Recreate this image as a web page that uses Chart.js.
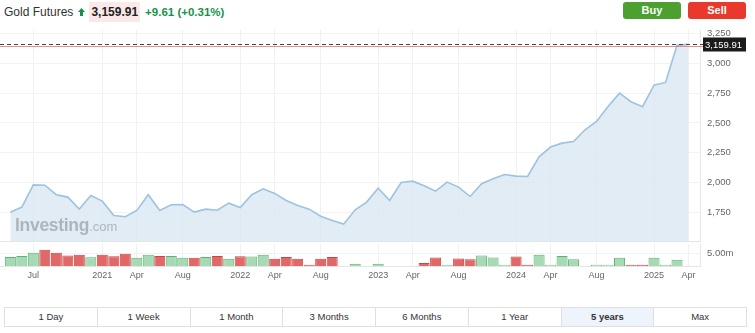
<!DOCTYPE html>
<html>
<head>
<meta charset="utf-8">
<script src="https://cdn.jsdelivr.net/npm/chart.js@4.4.1/dist/chart.umd.min.js"></script>
<style>
  body { margin: 0; width: 755px; height: 333px; background: #fff; position: relative; overflow: hidden;
         font-family: Arial, "Liberation Sans", sans-serif; }
  .header { position: absolute; left: 4px; top: 2px; height: 19px; display: flex; align-items: center; font-size: 12px; color: #333; }
  .header .arrow { margin: 0 4px 0 5px; display: block; }
  .header .price { font-weight: bold; background: #fbe8e8; padding: 3px 2px; color: #222; }
  .header .change { font-weight: bold; color: #17924a; margin-left: 5px; font-size: 11.5px; }
  .btn { position: absolute; top: 2px; height: 17px; width: 58px; border-radius: 3px; color: #fff; font-weight: bold;
         font-size: 11px; text-align: center; line-height: 17px; }
  .buy { left: 623px; background: #4ca02f; }
  .sell { left: 688px; background: #e8392c; }
  #priceChart { position: absolute; left: 0; top: 28px; }
  #volChart { position: absolute; left: 0; top: 243px; }
  .mark { position: absolute; left: 15px; top: 215px; color: rgba(110,115,120,0.45); white-space: nowrap; }
  .mark b { font-size: 17.5px; letter-spacing: -0.3px; }
  .mark span { font-size: 13px; }
  .tabs { position: absolute; left: 4px; top: 307px; width: 741px; height: 18px; border: 1px solid #e0e0e0; display: flex; }
  .tabs div { flex: 1; text-align: center; font-size: 9.5px; line-height: 18px; color: #333; border-right: 1px solid #e0e0e0; }
  .tabs div:last-child { border-right: none; }
  .tabs div.on { background: #eef4fb; font-weight: bold; }
</style>
</head>
<body>
<div class="header">
  <span>Gold Futures</span>
  <svg class="arrow" width="7" height="8" viewBox="0 0 7 8"><path d="M3.5 0 L7 4 L5 4 L5 8 L2 8 L2 4 L0 4 Z" fill="#17924a"/></svg>
  <span class="price">3,159.91</span>
  <span class="change">+9.61 (+0.31%)</span>
</div>
<div class="btn buy">Buy</div>
<div class="btn sell">Sell</div>

<canvas id="priceChart" width="755" height="214"></canvas>
<canvas id="volChart" width="755" height="42"></canvas>
<div class="mark"><b>Investing</b><span>.com</span></div>

<div class="tabs" id="tabs"></div>

<script>
const months = [
  'May 2020', 'Jun 2020', 'Jul 2020', 'Aug 2020', 'Sep 2020', 'Oct 2020', 'Nov 2020', 'Dec 2020',
  'Jan 2021', 'Feb 2021', 'Mar 2021', 'Apr 2021', 'May 2021', 'Jun 2021', 'Jul 2021', 'Aug 2021', 'Sep 2021', 'Oct 2021', 'Nov 2021', 'Dec 2021',
  'Jan 2022', 'Feb 2022', 'Mar 2022', 'Apr 2022', 'May 2022', 'Jun 2022', 'Jul 2022', 'Aug 2022', 'Sep 2022', 'Oct 2022', 'Nov 2022', 'Dec 2022',
  'Jan 2023', 'Feb 2023', 'Mar 2023', 'Apr 2023', 'May 2023', 'Jun 2023', 'Jul 2023', 'Aug 2023', 'Sep 2023', 'Oct 2023', 'Nov 2023', 'Dec 2023',
  'Jan 2024', 'Feb 2024', 'Mar 2024', 'Apr 2024', 'May 2024', 'Jun 2024', 'Jul 2024', 'Aug 2024', 'Sep 2024', 'Oct 2024', 'Nov 2024', 'Dec 2024',
  'Jan 2025', 'Feb 2025', 'Mar 2025', 'Apr 2025'
];

// monthly closes
const closes = [
  1750, 1793, 1980, 1977, 1897, 1877, 1776, 1891,
  1843, 1723, 1712, 1765, 1897, 1765, 1813, 1815, 1751, 1776, 1767, 1826,
  1790, 1897, 1947, 1908, 1849, 1807, 1776, 1717, 1681, 1650, 1771, 1835,
  1952, 1849, 2000, 2011, 1972, 1927, 2003, 1961, 1882, 1989, 2031, 2067,
  2053, 2050, 2215, 2297, 2330, 2344, 2442, 2512, 2638, 2750, 2678, 2636,
  2817, 2840, 3151, 3159.91
];

// volume in millions (null = no bar)
const volumes = [
  3.5, 3.9, 5.1, 6.3, 5.1, 4.1, 4.3, 3.4,
  4.3, 3.8, 4.7, 3.2, 4.3, 3.9, 3.9, 3.2, 3.2, 3.5, 3.9, 2.8,
  3.8, 3.7, 4.3, 2.8, 3.5, 2.8, 0.5, 2.8, 3.5, null, 0.9, null,
  0.9, null, null, null, 1.2, 3.3, 0.5, 2.9, 2.6, 4.1, 3.3, 0.5,
  3.7, 0.5, 4.3, 0.5, 3.9, 2.6, null, 0.5, 0.5, 3.2, 0.5, 0.5,
  3.2, 0.5, 2.4, null
];

const priceTicks = [1750, 2000, 2250, 2500, 2750, 3000, 3250];
const volumeTicks = [5];
const xTickMonths = ['Jul 2020', 'Jan 2021', 'Apr 2021', 'Aug 2021', 'Jan 2022', 'Apr 2022', 'Aug 2022',
  'Jan 2023', 'Apr 2023', 'Aug 2023', 'Jan 2024', 'Apr 2024', 'Aug 2024', 'Jan 2025', 'Apr 2025'];
const lastPrice = 3159.91;
const tabNames = ['1 Day', '1 Week', '1 Month', '3 Months', '6 Months', '1 Year', '5 years', 'Max'];

// tabs
const tabsEl = document.getElementById('tabs');
tabNames.forEach(name => {
  const d = document.createElement('div');
  d.textContent = name;
  if (name === '5 years') d.className = 'on';
  tabsEl.appendChild(d);
});

const xMin = -0.9, xMax = 60;
const axisWidth = 55;
const gridColor = '#f1f1f1';

function xTickLabel(m) {
  const [mon, yr] = m.split(' ');
  return mon === 'Jan' ? yr : mon;
}
const xTicks = xTickMonths.map(m => ({ value: months.indexOf(m) }));

// no extra room for edge labels, keep plot areas aligned
function noPad(s) {
  s.paddingTop = 0; s.paddingBottom = 0; s.paddingLeft = 0; s.paddingRight = 0;
}

// current price line + label
const lastPricePlugin = {
  id: 'lastPrice',
  afterDraw(chart) {
    const { ctx, chartArea, scales } = chart;
    const y = Math.round(scales.y.getPixelForValue(lastPrice)) + 0.5;
    ctx.save();
    ctx.strokeStyle = 'rgba(232,90,90,0.7)';
    ctx.lineWidth = 1;
    ctx.beginPath();
    ctx.moveTo(chartArea.left, y + 2);
    ctx.lineTo(chartArea.right + 3, y + 2);
    ctx.stroke();
    ctx.strokeStyle = '#444';
    ctx.setLineDash([4, 3]);
    ctx.beginPath();
    ctx.moveTo(chartArea.left, y);
    ctx.lineTo(chartArea.right + 3, y);
    ctx.stroke();
    ctx.setLineDash([]);
    ctx.fillStyle = '#1b1b1b';
    ctx.fillRect(chartArea.right + 3, y - 7, 43, 14);
    ctx.fillStyle = '#fff';
    ctx.font = '9.5px Arial';
    ctx.textBaseline = 'middle';
    ctx.fillText(lastPrice.toLocaleString('en-US', { minimumFractionDigits: 2 }), chartArea.right + 5, y + 0.5);
    ctx.restore();
  }
};

new Chart(document.getElementById('priceChart'), {
  type: 'line',
  data: {
    datasets: [{
      data: closes.map((v, i) => ({ x: i, y: v })),
      borderColor: '#9dc3e2',
      borderWidth: 1.6,
      backgroundColor: 'rgba(218,231,242,0.8)',
      fill: 'start',
      pointRadius: 0,
      tension: 0
    }]
  },
  options: {
    responsive: false,
    animation: false,
    plugins: { legend: { display: false }, tooltip: { enabled: false } },
    layout: { padding: { top: 2, left: 0, right: 0, bottom: 0 } },
    scales: {
      x: {
        type: 'linear', min: xMin, max: xMax,
        afterBuildTicks: s => { s.ticks = xTicks.map(t => ({ ...t })); },
        ticks: { display: false },
        grid: { color: gridColor, drawTicks: false },
        border: { color: '#e4e6e9', width: 2 },
        afterFit: s => { s.height = 0; noPad(s); }
      },
      y: {
        position: 'right', min: 1500, max: 3280,
        afterBuildTicks: s => { s.ticks = priceTicks.map(v => ({ value: v })); },
        ticks: { color: '#666', font: { size: 9.5, family: 'Arial' }, padding: 7, callback: v => v.toLocaleString('en-US') },
        grid: { color: '#f3f3f3', drawTicks: false },
        border: { color: '#e6e6e6' },
        afterFit: s => { s.width = axisWidth; noPad(s); }
      }
    }
  },
  plugins: [lastPricePlugin]
});

const upColor = '#a7d9b5', upBorder = '#5ab574';
const downColor = '#e26868', downBorder = '#c94545';
const isUp = closes.map((v, i) => i === 0 || v >= closes[i - 1]);

new Chart(document.getElementById('volChart'), {
  type: 'bar',
  data: {
    datasets: [{
      data: volumes.map((v, i) => ({ x: i, y: v })),
      backgroundColor: isUp.map(u => u ? upColor : downColor),
      borderColor: isUp.map(u => u ? upBorder : downBorder),
      borderWidth: 1,
      borderSkipped: 'start',
      barPercentage: 0.96,
      categoryPercentage: 1
    }]
  },
  options: {
    responsive: false,
    animation: false,
    plugins: { legend: { display: false }, tooltip: { enabled: false } },
    layout: { padding: { top: 1, left: 0, right: 0, bottom: 0 } },
    scales: {
      x: {
        type: 'linear', min: xMin, max: xMax, offset: false,
        afterBuildTicks: s => { s.ticks = xTicks.map(t => ({ ...t })); },
        ticks: {
          color: '#666', font: { size: 9, family: 'Arial' }, padding: 4, maxRotation: 0, autoSkip: false,
          callback: v => xTickLabel(months[v])
        },
        grid: { color: gridColor, drawTicks: false, offset: false },
        border: { color: '#e6e6e6' },
        afterFit: s => { s.height = 19; noPad(s); }
      },
      y: {
        position: 'right', min: 0, max: 8.5,
        afterBuildTicks: s => { s.ticks = volumeTicks.map(v => ({ value: v })); },
        ticks: { color: '#666', font: { size: 9.5, family: 'Arial' }, padding: 7, callback: v => v.toFixed(2) + 'm' },
        grid: { color: '#f3f3f3', drawTicks: false },
        border: { color: '#e6e6e6' },
        afterFit: s => { s.width = axisWidth; noPad(s); }
      }
    }
  }
});
</script>
</body>
</html>
